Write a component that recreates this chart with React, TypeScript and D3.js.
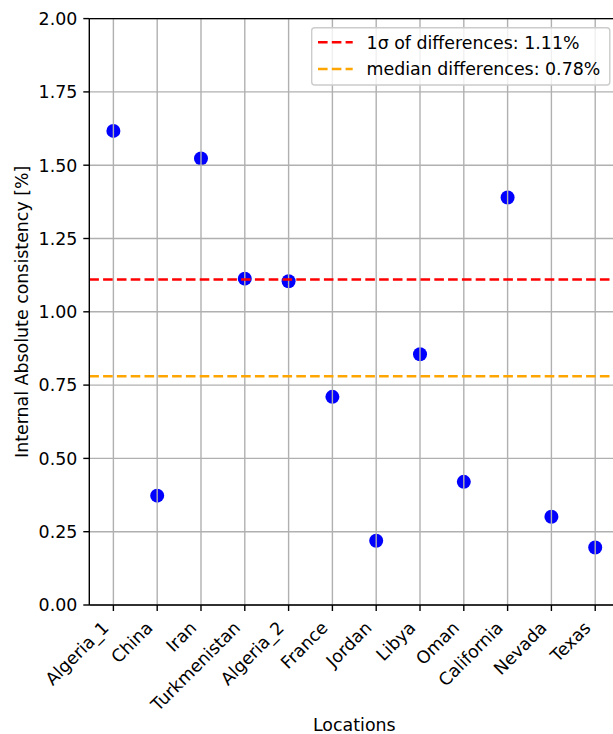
import React from "react";
import * as d3 from "d3";

const locations = [
  "Algeria_1", "China", "Iran", "Turkmenistan", "Algeria_2", "France",
  "Jordan", "Libya", "Oman", "California", "Nevada", "Texas",
];
const consistency = [1.617, 0.373, 1.523, 1.113, 1.104, 0.71, 0.219, 0.855, 0.42, 1.39, 0.301, 0.196];
const sigmaValue = 1.11;
const medianValue = 0.78;
const yTicks = [0, 0.25, 0.5, 0.75, 1.0, 1.25, 1.5, 1.75, 2.0];
const legendItems = [
  { label: "1σ of differences: 1.11%", color: "#ff0000" },
  { label: "median differences: 0.78%", color: "#ffa500" },
];

const W = 613;
const H = 734;
const left = 89.3;
const right = 619.3;
const top = 18.6;
const bottom = 605;
const FS = 17.4;
const FONT = "DejaVu Sans, sans-serif";

export default function App() {
  const x = d3.scaleLinear().domain([-0.55, locations.length - 1 + 0.55]).range([left, right]);
  const y = d3.scaleLinear().domain([0, 2]).range([bottom, top]);
  const dash = "9.6 4.2";
  const gridColor = "#b0b0b0";

  return (
    <svg
      width={W}
      height={H}
      style={{ position: "absolute", left: 0, top: 0, background: "#fff" }}
      fontFamily={FONT}
    >
      <defs>
        <clipPath id="plot">
          <rect x={left} y={top} width={right - left} height={bottom - top} />
        </clipPath>
      </defs>

      {/* scatter points */}
      <g clipPath="url(#plot)">
        {consistency.map((v, i) => (
          <circle key={i} cx={x(i)} cy={y(v)} r={7} fill="#0000ff" />
        ))}
      </g>

      {/* grid */}
      <g stroke={gridColor} strokeWidth={1.4}>
        {locations.map((_, i) => (
          <line key={"gx" + i} x1={x(i)} x2={x(i)} y1={top} y2={bottom} />
        ))}
        {yTicks.map((t) => (
          <line key={"gy" + t} x1={left} x2={right} y1={y(t)} y2={y(t)} />
        ))}
      </g>

      {/* reference lines */}
      <line x1={left} x2={right} y1={y(sigmaValue)} y2={y(sigmaValue)} stroke="#ff0000" strokeWidth={2.6} strokeDasharray={dash} />
      <line x1={left} x2={right} y1={y(medianValue)} y2={y(medianValue)} stroke="#ffa500" strokeWidth={2.6} strokeDasharray={dash} />

      {/* spines */}
      <g stroke="#000" strokeWidth={1.4} fill="none">
        <line x1={left} x2={left} y1={top} y2={bottom} />
        <line x1={left} x2={right} y1={bottom} y2={bottom} />
        <line x1={left} x2={right} y1={top} y2={top} />
        <line x1={right} x2={right} y1={top} y2={bottom} />
      </g>

      {/* y axis ticks */}
      <g fontSize={FS} fill="#000">
        {yTicks.map((t) => (
          <g key={"yt" + t}>
            <line x1={left - 6} x2={left} y1={y(t)} y2={y(t)} stroke="#000" strokeWidth={1.4} />
            <text x={left - 12} y={y(t) + 6.3} textAnchor="end">
              {d3.format(".2f")(t)}
            </text>
          </g>
        ))}
      </g>

      {/* x axis ticks */}
      <g fontSize={FS} fill="#000">
        {locations.map((name, i) => (
          <g key={"xt" + i}>
            <line x1={x(i)} x2={x(i)} y1={bottom} y2={bottom + 6} stroke="#000" strokeWidth={1.4} />
            <text
              transform={`translate(${x(i) - 3.5},${bottom + 24}) rotate(-45)`}
              textAnchor="end"
            >
              {name}
            </text>
          </g>
        ))}
      </g>

      {/* axis labels */}
      <text x={(left + right) / 2} y={731} textAnchor="middle" fontSize={FS} fill="#000">
        Locations
      </text>
      <text
        transform={`translate(27.5,${(top + bottom) / 2}) rotate(-90)`}
        textAnchor="middle"
        fontSize={FS}
        fill="#000"
      >
        Internal Absolute consistency [%]
      </text>

      {/* legend */}
      <g>
        <rect
          x={311.7}
          y={27.8}
          width={609.8 - 311.7}
          height={85 - 27.8}
          rx={3}
          fill="#fff"
          fillOpacity={0.8}
          stroke="#cccccc"
          strokeWidth={1.4}
        />
        {legendItems.map((item, k) => {
          const cy = 42.3 + k * 26.7;
          return (
            <g key={item.label}>
              <line x1={318} x2={352.7} y1={cy} y2={cy} stroke={item.color} strokeWidth={2.6} strokeDasharray={dash} />
              <text x={366.6} y={cy + 6.2} fontSize={FS} fill="#000">
                {item.label}
              </text>
            </g>
          );
        })}
      </g>
    </svg>
  );
}
